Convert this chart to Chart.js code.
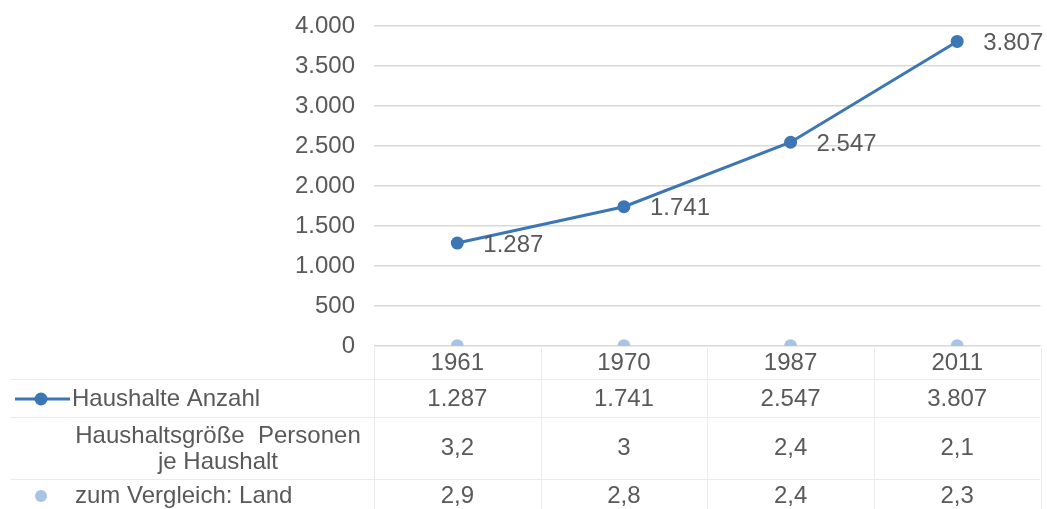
<!DOCTYPE html>
<html lang="de">
<head>
<meta charset="utf-8">
<title>Haushalte</title>
<script src="https://cdn.jsdelivr.net/npm/chart.js@4/dist/chart.umd.min.js"></script>
<style>
  html, body { margin: 0; padding: 0; background: #ffffff; }
  #wrap { width: 1047px; height: 509px; }
</style>
</head>
<body>
<div id="wrap"><canvas id="chart" width="1047" height="509"></canvas></div>
<script>
// Erhebungsjahre
const categories = ['1961', '1970', '1987', '2011'];
// Anzahl der Haushalte
const households = [1287, 1741, 2547, 3807];
// Durchschnittliche Haushaltsgröße (Personen je Haushalt)
const householdSize = [3.2, 3, 2.4, 2.1];
// Vergleichswert Land
const stateComparison = [2.9, 2.8, 2.4, 2.3];
// Werte der y-Achse
const yTicks = [0, 500, 1000, 1500, 2000, 2500, 3000, 3500, 4000];

const seriesNames = ['Haushalte Anzahl', ['Haushaltsgröße  Personen', 'je Haushalt'], 'zum Vergleich: Land'];

const FONT = "'Liberation Sans', Arial, sans-serif";
const FONT_SIZE = 24;
const TEXT = '#595959';
const BLUE = '#3D76B5';
const LIGHT = '#A8C3E6';

function fmtThousands(v) {
  return String(v).replace(/\B(?=(\d{3})+(?!\d))/g, '.');
}
function fmtDecimal(v) {
  return String(v).replace('.', ',');
}

// Wertbeschriftungen rechts neben den Punkten der Linie
const pointLabels = {
  id: 'pointLabels',
  afterDatasetsDraw(chart) {
    const ctx = chart.ctx;
    const meta = chart.getDatasetMeta(0);
    ctx.save();
    ctx.font = FONT_SIZE + 'px ' + FONT;
    ctx.fillStyle = TEXT;
    ctx.textAlign = 'left';
    ctx.textBaseline = 'middle';
    meta.data.forEach((pt, i) => {
      ctx.fillText(fmtThousands(households[i]), pt.x + 26, pt.y + 2);
    });
    ctx.restore();
  }
};

// Datentabelle unter dem Diagramm
const dataTable = {
  id: 'dataTable',
  afterDraw(chart) {
    const ctx = chart.ctx;
    const xs = chart.scales.x;
    const area = chart.chartArea;
    const colW = (area.right - area.left) / categories.length;
    const rowLines = [379, 417, 479];
    const bottom = chart.height;

    ctx.save();
    ctx.strokeStyle = '#EBEBEB';
    ctx.lineWidth = 1;
    // Zeilenlinien
    rowLines.forEach(y => {
      ctx.beginPath();
      ctx.moveTo(10, y + 0.5);
      ctx.lineTo(area.right, y + 0.5);
      ctx.stroke();
    });
    // Spaltenlinien
    for (let i = 0; i <= categories.length; i++) {
      const x = Math.round(area.left + i * colW) + 0.5;
      ctx.beginPath();
      ctx.moveTo(x, area.bottom + 2);
      ctx.lineTo(x, bottom);
      ctx.stroke();
    }

    ctx.font = FONT_SIZE + 'px ' + FONT;
    ctx.fillStyle = TEXT;
    ctx.textBaseline = 'middle';

    // Zeile 1: Haushalte Anzahl
    const r1 = 399;
    ctx.strokeStyle = BLUE;
    ctx.lineWidth = 3;
    ctx.beginPath();
    ctx.moveTo(15, r1);
    ctx.lineTo(70, r1);
    ctx.stroke();
    ctx.fillStyle = BLUE;
    ctx.beginPath();
    ctx.arc(41, r1, 6.5, 0, Math.PI * 2);
    ctx.fill();
    ctx.fillStyle = TEXT;
    ctx.textAlign = 'left';
    ctx.fillText(seriesNames[0], 72, r1);

    // Zeile 2: Haushaltsgröße
    const r2 = 448;
    ctx.textAlign = 'center';
    ctx.fillText(seriesNames[1][0], 218, r2 - 12);
    ctx.fillText(seriesNames[1][1], 218, r2 + 14);

    // Zeile 3: Vergleich Land
    const r3 = 496;
    ctx.fillStyle = LIGHT;
    ctx.beginPath();
    ctx.arc(41, r3, 6, 0, Math.PI * 2);
    ctx.fill();
    ctx.fillStyle = TEXT;
    ctx.textAlign = 'left';
    ctx.fillText(seriesNames[2], 75, r3);

    // Werte
    ctx.textAlign = 'center';
    categories.forEach((c, i) => {
      const cx = xs.getPixelForValue(i);
      ctx.fillText(fmtThousands(households[i]), cx, r1);
      ctx.fillText(fmtDecimal(householdSize[i]), cx, r2);
      ctx.fillText(fmtDecimal(stateComparison[i]), cx, r3);
    });
    ctx.restore();
  }
};

new Chart(document.getElementById('chart'), {
  type: 'line',
  data: {
    labels: categories,
    datasets: [
      {
        label: 'Haushalte Anzahl',
        data: households,
        borderColor: BLUE,
        backgroundColor: BLUE,
        borderWidth: 3,
        pointRadius: 6.5,
        pointHoverRadius: 6.5,
        pointBackgroundColor: BLUE,
        pointBorderWidth: 0,
        tension: 0,
        order: 1
      },
      {
        label: 'Haushaltsgröße Personen je Haushalt',
        data: householdSize,
        showLine: false,
        pointRadius: 0,
        borderColor: 'rgba(0,0,0,0)',
        backgroundColor: 'rgba(0,0,0,0)',
        order: 2
      },
      {
        label: 'zum Vergleich: Land',
        data: stateComparison,
        showLine: false,
        pointRadius: 6.5,
        pointHoverRadius: 6.5,
        pointBackgroundColor: LIGHT,
        pointBorderWidth: 0,
        borderColor: LIGHT,
        backgroundColor: LIGHT,
        order: 3
      }
    ]
  },
  options: {
    responsive: false,
    animation: false,
    devicePixelRatio: 1,
    layout: { padding: { top: 26, right: -1, left: 0, bottom: 0 } },
    plugins: {
      legend: { display: false },
      tooltip: { enabled: false }
    },
    scales: {
      x: {
        type: 'category',
        offset: true,
        grid: { display: false, drawTicks: false },
        border: { display: false },
        ticks: {
          color: TEXT,
          font: { family: FONT, size: FONT_SIZE },
          padding: 3,
          maxRotation: 0,
          autoSkip: false
        },
        afterFit(scale) {
          scale.height = 163;
          scale.paddingLeft = 0;
          scale.paddingRight = 0;
        }
      },
      y: {
        min: 0,
        max: 4000,
        afterBuildTicks(scale) {
          scale.ticks = yTicks.map(v => ({ value: v }));
        },
        grid: { color: '#D9D9D9', lineWidth: 1.5, drawTicks: false },
        border: { display: false },
        ticks: {
          color: TEXT,
          font: { family: FONT, size: FONT_SIZE },
          padding: 19,
          callback: v => fmtThousands(v)
        },
        afterFit(scale) {
          scale.width = 374;
          scale.paddingTop = 0;
          scale.paddingBottom = 0;
        }
      }
    }
  },
  plugins: [pointLabels, dataTable]
});
</script>
</body>
</html>
